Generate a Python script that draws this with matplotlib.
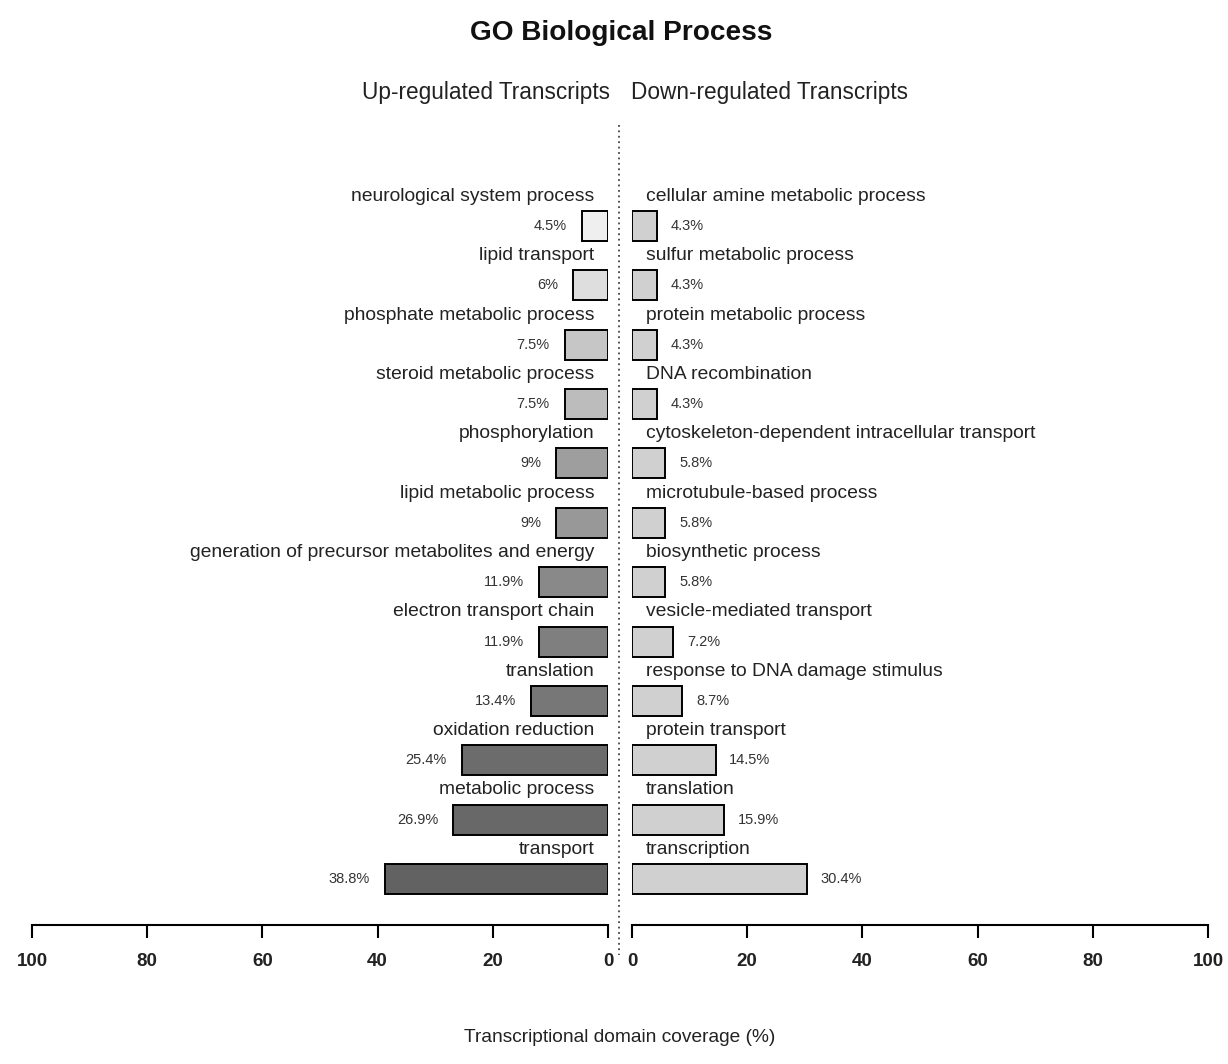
import matplotlib
matplotlib.use('Agg')
import matplotlib.pyplot as plt
from matplotlib.lines import Line2D

plt.rcParams['font.family'] = ['Liberation Sans', 'DejaVu Sans']

# GO terms, top to bottom
UP_TERMS = [
    "neurological system process", "lipid transport", "phosphate metabolic process",
    "steroid metabolic process", "phosphorylation", "lipid metabolic process",
    "generation of precursor metabolites and energy", "electron transport chain",
    "translation", "oxidation reduction", "metabolic process", "transport",
]
UP_PCT = [4.5, 6, 7.5, 7.5, 9, 9, 11.9, 11.9, 13.4, 25.4, 26.9, 38.8]
UP_LABELS = ["4.5%", "6%", "7.5%", "7.5%", "9%", "9%", "11.9%", "11.9%",
             "13.4%", "25.4%", "26.9%", "38.8%"]

DOWN_TERMS = [
    "cellular amine metabolic process", "sulfur metabolic process",
    "protein metabolic process", "DNA recombination",
    "cytoskeleton-dependent intracellular transport", "microtubule-based process",
    "biosynthetic process", "vesicle-mediated transport",
    "response to DNA damage stimulus", "protein transport", "translation",
    "transcription",
]
DOWN_PCT = [4.3, 4.3, 4.3, 4.3, 5.8, 5.8, 5.8, 7.2, 8.7, 14.5, 15.9, 30.4]
DOWN_LABELS = ["4.3%", "4.3%", "4.3%", "4.3%", "5.8%", "5.8%", "5.8%", "7.2%",
               "8.7%", "14.5%", "15.9%", "30.4%"]

TICKS = [0, 20, 40, 60, 80, 100]

UP_COLORS = ["#efefef", "#dedede", "#c6c6c6", "#bcbcbc", "#9e9e9e", "#989898",
             "#898989", "#7f7f7f", "#777777", "#6c6c6c", "#686868", "#626262"]
DOWN_COLOR = "#d0d0d0"

W, H = 1228, 1064
fig = plt.figure(figsize=(W / 100, H / 100), dpi=100)
fig.patch.set_facecolor("white")


def fx(px):
    return px / W


def fy(py):
    return 1 - py / H


ax_top, ax_bot = 150, 925
left_ax = fig.add_axes([fx(32), fy(ax_bot), fx(576), (ax_bot - ax_top) / H])
right_ax = fig.add_axes([fx(632), fy(ax_bot), fx(576), (ax_bot - ax_top) / H])

row_px = (879 - 226) / 11
n = len(UP_PCT)
rows = list(range(n))
ylim = (11 + (ax_bot - 879) / row_px, -(226 - ax_top) / row_px)

for ax, pct, labels, terms, side in [
    (left_ax, UP_PCT, UP_LABELS, UP_TERMS, "left"),
    (right_ax, DOWN_PCT, DOWN_LABELS, DOWN_TERMS, "right"),
]:
    colors = UP_COLORS if side == "left" else [DOWN_COLOR] * n
    ax.barh(rows, pct, height=0.505, color=colors, edgecolor="black", linewidth=1.4)
    ax.set_ylim(*ylim)
    if side == "left":
        ax.set_xlim(100, 0)
    else:
        ax.set_xlim(0, 100)
    for i, (v, lab, term) in enumerate(zip(pct, labels, terms)):
        if side == "left":
            ax.text(v + 2.6, i, lab, ha="right", va="center", fontsize=10.5, color="#333333")
            ax.text(2.4, i - 0.5, term, ha="right", va="center", fontsize=13.9, color="#222222")
        else:
            ax.text(v + 2.4, i, lab, ha="left", va="center", fontsize=10.5, color="#333333")
            ax.text(2.4, i - 0.5, term, ha="left", va="center", fontsize=13.9, color="#222222")
    for s in ["top", "left", "right"]:
        ax.spines[s].set_visible(False)
    ax.spines["bottom"].set_linewidth(1.5)
    ax.set_yticks([])
    ax.set_xticks(TICKS)
    ax.tick_params(axis="x", direction="out", length=9, width=1.5, pad=11,
                   labelsize=13.5, labelcolor="#222222")
    for t in ax.get_xticklabels():
        t.set_fontweight("bold")
    ax.set_facecolor("none")

# dotted divider
fig.add_artist(Line2D([fx(619), fx(619)], [fy(125), fy(955)], color="#444444",
                      linestyle=(0, (1, 2)), linewidth=1.3))

fig.text(fx(621), fy(33), "GO Biological Process", ha="center", va="center",
         fontsize=20.2, fontweight="bold", color="#111111")
fig.text(fx(610), fy(93), "Up-regulated Transcripts", ha="right", va="center",
         fontsize=16.3, color="#222222")
fig.text(fx(631), fy(93), "Down-regulated Transcripts", ha="left", va="center",
         fontsize=16.3, color="#222222")
fig.text(fx(620), fy(1037), "Transcriptional domain coverage (%)", ha="center",
         va="center", fontsize=13.8, color="#222222")

fig.savefig("out.png", dpi=100, facecolor="white")
